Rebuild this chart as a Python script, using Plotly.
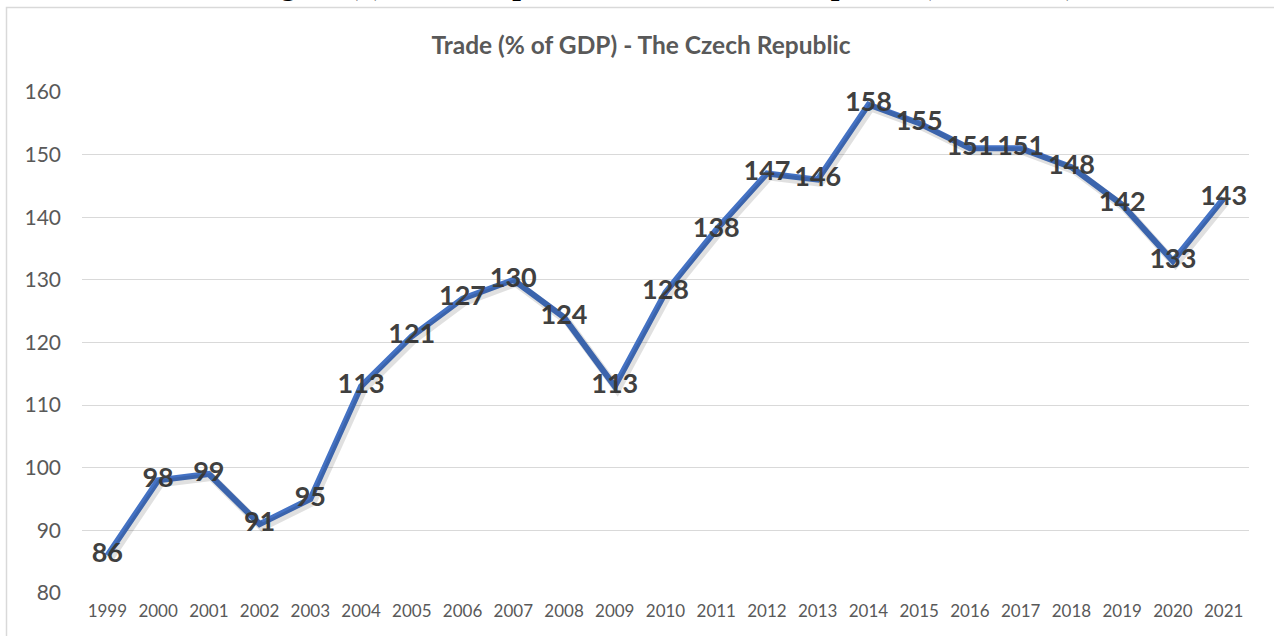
import plotly.graph_objects as go

years = [str(y) for y in range(1999, 2022)]
trade = [86, 98, 99, 91, 95, 113, 121, 127, 130, 124, 113, 128, 138, 147, 146,
         158, 155, 151, 151, 148, 142, 133, 143]
y_ticks = [80, 90, 100, 110, 120, 130, 140, 150, 160]

chart_title = "Trade (% of GDP) - The Czech Republic"
page_title = "Figure (5): Trade Openness of the Czech Republic (1999-2021)"

W, H = 1274, 636
L, R, T, B = 82, 25, 92, 43
pw, ph = W - L - R, H - T - B
n = len(years)

def px_x(px):
    return (px - L) / pw

def px_y(py):
    return (H - B - py) / ph

# shadow offset (pixels) expressed via shifted overlay axis ranges
sdx = 2.5 * n / pw
sdy = 3.0 * 80 / ph

fig = go.Figure()
fig.add_trace(go.Scatter(
    x=years, y=trade, mode="lines", xaxis="x2", yaxis="y2",
    line=dict(color="rgba(0,0,0,0.12)", width=8),
    hoverinfo="skip", showlegend=False,
))
fig.add_trace(go.Scatter(
    x=years, y=trade, mode="lines+text",
    line=dict(color="#4472C4", width=6),
    text=[str(v) for v in trade],
    textposition="middle center",
    textfont=dict(family="Lato", size=27, color="#404040", weight="bold"),
    cliponaxis=False, showlegend=False,
))

fig.update_layout(
    width=W, height=H,
    margin=dict(l=L, r=R, t=T, b=B),
    paper_bgcolor="white", plot_bgcolor="white",
    showlegend=False,
    title=dict(
        text=chart_title, x=641 / W, xanchor="center",
        y=1 - 45 / H, yanchor="middle",
        font=dict(family="Lato", size=24.5, color="#595959", weight="bold"),
    ),
    xaxis=dict(
        type="category", range=[-0.5, n - 0.5],
        showgrid=False, showline=False, ticks="",
        tickfont=dict(family="Lato", size=17, color="#595959"),
        ticklabelstandoff=6,
    ),
    yaxis=dict(
        range=[80, 160], tickvals=y_ticks,
        showgrid=True, gridcolor="#D9D9D9", gridwidth=1,
        zeroline=False, showline=False, ticks="",
        tickfont=dict(family="Lato", size=21, color="#595959"),
        ticklabelstandoff=20,
    ),
    xaxis2=dict(
        type="category", overlaying="x", range=[-0.5 - sdx, n - 0.5 - sdx],
        visible=False,
    ),
    yaxis2=dict(
        overlaying="y", range=[80 + sdy, 160 + sdy], visible=False,
    ),
    shapes=[dict(
        type="rect", xref="paper", yref="paper",
        x0=px_x(6.5), x1=px_x(1290), y0=px_y(650), y1=px_y(7.5),
        line=dict(color="#D9D9D9", width=1.5), fillcolor="rgba(0,0,0,0)",
        layer="below",
    )],
    annotations=[dict(
        text=page_title, xref="paper", yref="paper",
        x=px_x(664), y=px_y(2), xanchor="center", yanchor="bottom",
        showarrow=False, borderpad=0,
        font=dict(family="Liberation Serif", size=31, color="black", weight="bold"),
    )],
)

fig.write_html("out.html", config={"displayModeBar": False},
               post_script="document.body.style.margin='0';")
